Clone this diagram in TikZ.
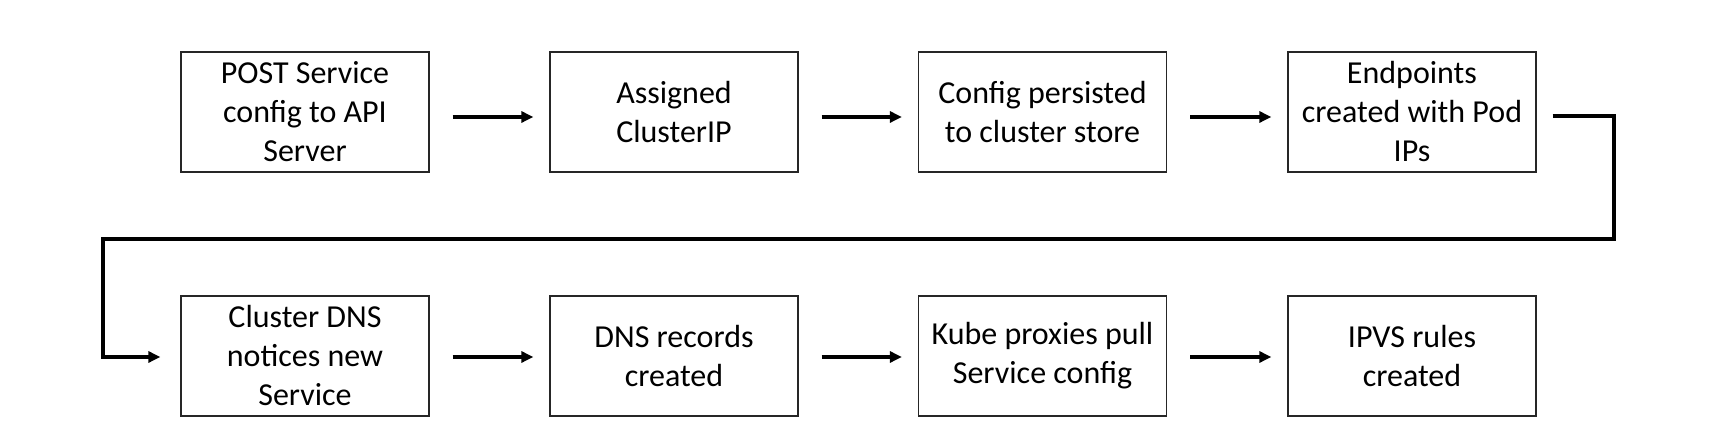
\documentclass[tikz,border=0pt]{standalone}
\usepackage{fontspec}
\setmainfont{Carlito}
\usetikzlibrary{arrows.meta}
\begin{document}
\begin{tikzpicture}[x=1pt,y=1pt,
  stepbox/.style={draw=black!85,line width=1.3pt,minimum width=248pt,minimum height=120pt,
    inner sep=0pt,align=center,font=\fontsize{32}{39}\selectfont},
  flow/.style={line width=4pt,-{Triangle[length=12pt,width=11pt]}}]
\useasboundingbox (0,0) rectangle (1730,446);
\node[stepbox] (n1) at (305,334) {POST Service\\config to API\\Server};
\node[stepbox] (n2) at (674,334) {Assigned\\ClusterIP};
\node[stepbox] (n3) at (1042.5,334) {Config persisted\\to cluster store};
\node[stepbox] (n4) at (1412,334) {Endpoints\\created with Pod\\IPs};
\node[stepbox] (n5) at (305,90) {Cluster DNS\\notices new\\Service};
\node[stepbox] (n6) at (674,90) {DNS records\\created};
\node[stepbox] (n7) at (1042.5,90) {Kube proxies pull\\Service config};
\node[stepbox] (n8) at (1412,90) {IPVS rules\\created};
\draw[flow] ([xshift=23pt,yshift=-5pt]n1.east) -- ([xshift=-16pt,yshift=-5pt]n2.west);
\draw[flow] ([xshift=23pt,yshift=-5pt]n2.east) -- ([xshift=-16pt,yshift=-5pt]n3.west);
\draw[flow] ([xshift=23pt,yshift=-5pt]n3.east) -- ([xshift=-16pt,yshift=-5pt]n4.west);
\draw[flow] ([xshift=23pt,yshift=-1pt]n5.east) -- ([xshift=-16pt,yshift=-1pt]n6.west);
\draw[flow] ([xshift=23pt,yshift=-1pt]n6.east) -- ([xshift=-16pt,yshift=-1pt]n7.west);
\draw[flow] ([xshift=23pt,yshift=-1pt]n7.east) -- ([xshift=-16pt,yshift=-1pt]n8.west);
\coordinate (r1) at (1614,207);
\coordinate (l1) at (103,207);
\draw[flow,line join=miter] ([xshift=16pt,yshift=-4pt]n4.east) -| (r1) -- (l1) |- ([xshift=-20pt,yshift=-1pt]n5.west);
\end{tikzpicture}
\end{document}
